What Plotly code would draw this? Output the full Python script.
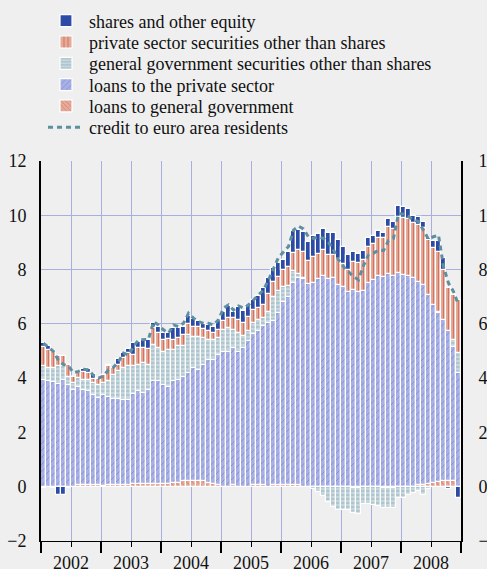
import plotly.graph_objects as go

# ---- categories (monthly, Jan 2002 - Dec 2008) ----
months = [f"{y}-{m:02d}" for y in range(2002, 2009) for m in range(1, 13)]
years = ["2002", "2003", "2004", "2005", "2006", "2007", "2008"]
y_ticks = [-2, 0, 2, 4, 6, 8, 10, 12]

# ---- contributions (percentage points) ----
loans_gov = [-0.05, 0.0, -0.03, 0.0, 0.0, -0.03, 0.0, 0.05, 0.05, 0.05, 0.05, 0.05,
             0.03, 0.07, 0.05, 0.05, 0.05, 0.05, 0.1, 0.1, 0.1, 0.1, 0.1, 0.1,
             0.1, 0.1, 0.15, 0.15, 0.2, 0.2, 0.2, 0.2, 0.2, 0.15, 0.1, 0.05,
             0.0, 0.0, 0.05, 0.0, 0.0, 0.0, 0.05, 0.05, 0.05, 0.0, 0.05, 0.08,
             0.08, 0.08, 0.08, 0.08, 0.0, 0.0, 0.0, 0.0, 0.0, 0.0, 0.0, 0.0,
             0.0, 0.0, -0.05, -0.05, 0.0, 0.0, 0.0, 0.0, -0.05, -0.05, -0.05, 0.0,
             0.0, 0.0, 0.0, 0.05, 0.05, 0.1, 0.15, 0.18, 0.2, 0.22, 0.2, 0.0]

loans_private = [3.94, 3.88, 3.84, 3.79, 3.94, 3.75, 3.57, 3.64, 3.52, 3.46, 3.34, 3.21,
                 3.36, 3.25, 3.19, 3.19, 3.15, 3.15, 3.32, 3.41, 3.35, 3.47, 3.78, 3.78,
                 3.65, 3.59, 3.73, 3.79, 3.83, 4.00, 4.17, 4.11, 4.29, 4.53, 4.58, 4.81,
                 4.98, 4.96, 5.06, 4.98, 5.10, 5.38, 5.57, 5.70, 5.86, 6.02, 6.05, 6.32,
                 6.72, 6.92, 7.42, 7.62, 7.65, 7.48, 7.49, 7.65, 7.77, 7.64, 7.70, 7.43,
                 7.37, 7.19, 7.25, 7.19, 7.22, 7.50, 7.62, 7.76, 7.72, 7.84, 7.76, 7.86,
                 7.80, 7.76, 7.68, 7.51, 7.38, 6.97, 6.55, 6.21, 5.95, 5.50, 4.96, 4.19]

gov_securities = [0.49, 0.49, 0.53, 0.64, 0.49, 0.31, 0.25, 0.31, 0.37, 0.43, 0.43, 0.49,
                  0.43, 0.56, 0.88, 1.01, 1.17, 1.23, 1.01, 0.98, 1.10, 0.92, 1.35, 1.22,
                  1.23, 1.35, 1.16, 1.23, 1.17, 1.40, 1.16, 1.20, 0.98, 0.73, 0.73, 0.61,
                  0.80, 0.88, 0.67, 0.68, 0.44, 0.37, 0.40, 0.40, 0.30, 0.43, 0.90, 0.80,
                  0.55, 0.40, 0.45, 0.15, 0.05, 0.0, -0.10, -0.20, -0.35, -0.55, -0.73, -0.85,
                  -0.87, -0.85, -0.90, -0.97, -0.63, -0.63, -0.66, -0.72, -0.72, -0.72, -0.72, -0.42,
                  -0.42, -0.30, -0.23, -0.17, -0.30, -0.10, 0.0, 0.06, 0.0, 0.0, 0.25, 0.75]

private_securities = [0.70, 0.67, 0.61, 0.37, 0.37, 0.43, 0.24, 0.18, 0.27, 0.24, 0.14, 0.23,
                      0.30, 0.55, 0.25, 0.24, 0.37, 0.49, 0.43, 0.61, 0.55, 0.58, 0.61, 0.56,
                      0.43, 0.39, 0.37, 0.30, 0.40, 0.40, 0.37, 0.39, 0.33, 0.33, 0.25, 0.31,
                      0.31, 0.37, 0.43, 0.49, 0.51, 0.52, 0.49, 0.43, 0.49, 0.65, 0.56, 0.54,
                      0.64, 0.70, 0.65, 0.87, 0.96, 0.85, 0.96, 0.92, 0.95, 0.90, 0.84, 0.95,
                      0.83, 0.81, 1.04, 1.04, 1.14, 1.32, 1.32, 1.42, 1.46, 1.72, 1.73, 2.09,
                      2.11, 2.09, 2.05, 2.08, 2.09, 2.02, 2.08, 2.21, 1.85, 1.59, 1.66, 1.94]

shares = [0.16, 0.13, 0.02, -0.30, -0.30, 0.0, 0.0, 0.10, 0.12, 0.15, 0.20, 0.0,
          0.0, 0.06, 0.0, 0.21, 0.20, 0.15, 0.43, 0.25, 0.29, 0.32, 0.21, 0.24,
          0.25, 0.23, 0.43, 0.37, 0.27, 0.30, 0.27, 0.19, 0.20, 0.22, 0.24, 0.31,
          0.36, 0.43, 0.24, 0.46, 0.43, 0.43, 0.37, 0.45, 0.61, 0.58, 0.49, 0.51,
          0.38, 0.56, 0.83, 0.74, 0.71, 0.70, 0.80, 0.75, 0.76, 0.82, 0.82, 0.71,
          0.65, 0.54, 0.37, 0.35, 0.34, 0.36, 0.30, 0.24, 0.18, 0.29, 0.28, 0.39,
          0.41, 0.37, 0.24, 0.28, 0.25, 0.06, 0.29, 0.41, 0.42, -0.10, 0.0, -0.40]

credit_total = [5.29, 5.13, 4.98, 4.65, 4.50, 4.45, 4.20, 4.25, 4.33, 4.31, 4.10, 4.00,
                4.08, 4.31, 4.40, 4.61, 4.92, 4.85, 5.17, 5.41, 5.43, 5.43, 6.08, 5.96,
                5.78, 5.66, 5.96, 5.90, 6.02, 6.39, 6.21, 6.09, 6.02, 6.02, 5.96, 6.15,
                6.58, 6.70, 6.51, 6.66, 6.58, 6.70, 6.88, 7.07, 7.25, 7.62, 8.05, 8.45,
                8.65, 8.85, 9.45, 9.60, 9.50, 9.20, 9.15, 9.20, 9.15, 9.00, 8.72, 8.36,
                8.11, 7.92, 7.74, 7.62, 8.15, 8.54, 8.60, 8.72, 8.70, 9.07, 9.15, 10.07,
                10.04, 9.95, 9.83, 9.77, 9.46, 9.12, 9.21, 9.27, 8.11, 7.50, 7.19, 6.70]

# month positions on a decimal-year axis (bar centred in its month)
x = [int(s[:4]) + (int(s[5:]) - 0.5) / 12 for s in months]
year_mid = [int(y) + 0.5 for y in years]
year_edges = [int(y) for y in years] + [int(years[-1]) + 1]

W, H = 487, 569
BG = "#efefef"
FONT = "Liberation Serif, Times New Roman, serif"
GRID = "#a9aee0"
SALMON = "#e5ab99"
RED = "#bf3a2c"

fig = go.Figure()
outline = dict(color="white", width=1.2)

fig.add_trace(go.Bar(
    x=x, y=loans_gov, name="loans to general government", legend="legend5",
    marker=dict(color=SALMON, line=outline,
                pattern=dict(shape="\\", fgcolor=RED, size=4, solidity=0.2)),
))
fig.add_trace(go.Bar(
    x=x, y=loans_private, name="loans to the private sector", legend="legend4",
    marker=dict(color="#a7afe4", line=outline,
                pattern=dict(shape="/", fgcolor="#4a5cc0", size=5, solidity=0.15)),
))
fig.add_trace(go.Bar(
    x=x, y=gov_securities, name="general government securities other than shares",
    legend="legend3",
    marker=dict(color="#c5d6dc", line=outline,
                pattern=dict(shape="-", fgcolor="#6a97a5", size=4, solidity=0.25)),
))
fig.add_trace(go.Bar(
    x=x, y=private_securities, name="private sector securities other than shares",
    legend="legend2",
    marker=dict(color=SALMON, line=outline,
                pattern=dict(shape="|", fgcolor=RED, size=5, solidity=0.25)),
))
fig.add_trace(go.Bar(
    x=x, y=shares, name="shares and other equity", legend="legend",
    marker=dict(color="#2b4ba6", line=outline),
))
fig.add_trace(go.Scatter(
    x=x, y=credit_total, name="credit to euro area residents", legend="legend6",
    mode="lines", yaxis="y2",
    line=dict(color="#5d8fa0", width=3, dash="5px,4px"),
))

# one legend box per row so the rows sit at the reference spacing
row_px = [21, 42.3, 63.6, 84.9, 106.2, 127.5]
legends = {}
for k, py in enumerate(row_px):
    key = "legend" if k == 0 else f"legend{k + 1}"
    legends[key] = dict(xref="container", yref="container", x=43 / W, y=1 - py / H,
                        xanchor="left", yanchor="middle", bgcolor="rgba(0,0,0,0)",
                        borderwidth=0, font=dict(family=FONT, size=18, color="#111111"),
                        itemwidth=36)

fig.update_layout(
    width=W, height=H,
    margin=dict(l=41, r=26, t=161, b=28, autoexpand=False),
    paper_bgcolor=BG, plot_bgcolor=BG,
    barmode="relative", bargap=0,
    font=dict(family=FONT, size=18, color="#111111"),
    showlegend=True,
    **legends,
    xaxis=dict(range=[2002, 2009], tickmode="array", tickvals=year_mid, ticktext=years,
               ticks="outside", ticklen=5, tickwidth=1, tickcolor="black",
               ticklabelstandoff=0,
               showgrid=True, gridcolor=GRID, gridwidth=1,
               showline=True, linecolor="black", linewidth=1, zeroline=False,
               tickfont=dict(family=FONT, size=18),
               minor=dict(tickmode="array", tickvals=year_edges, ticks="outside",
                          ticklen=11, tickwidth=2, tickcolor="black",
                          showgrid=True, gridcolor=GRID, gridwidth=1)),
    yaxis=dict(range=[-2, 12], tickmode="array", tickvals=y_ticks,
               showgrid=True, gridcolor=GRID, gridwidth=1,
               zeroline=True, zerolinecolor="#555555", zerolinewidth=1,
               showline=True, linecolor="black", linewidth=2,
               ticks="", ticklabelstandoff=9,
               tickfont=dict(family=FONT, size=18)),
    yaxis2=dict(range=[-2, 12], tickmode="array", tickvals=y_ticks,
                overlaying="y", side="right", showgrid=False, zeroline=False,
                showline=True, linecolor="black", linewidth=2,
                ticks="", ticklabelstandoff=12,
                tickfont=dict(family=FONT, size=18)),
)

fig.write_html(
    "out.html",
    config={"displayModeBar": False},
    post_script=f"document.body.style.margin='0';document.body.style.background='{BG}';",
)
